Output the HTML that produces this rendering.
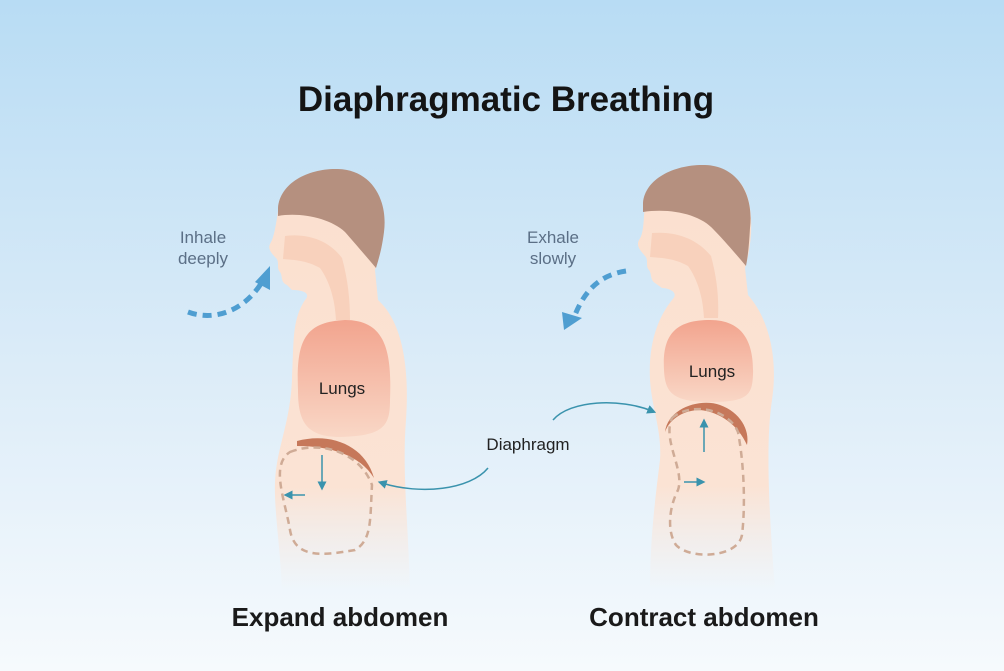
<!DOCTYPE html>
<html><head><meta charset="utf-8"><style>
html,body{margin:0;padding:0;width:1004px;height:671px;overflow:hidden;}
svg{display:block}
text{font-family:"Liberation Sans",sans-serif}
</style></head><body>
<svg width="1004" height="671" viewBox="0 0 1004 671" xmlns="http://www.w3.org/2000/svg">
<defs>
<linearGradient id="bg" x1="0" y1="0" x2="0" y2="1">
<stop offset="0" stop-color="#b8dcf4"/><stop offset="0.55" stop-color="#dcecf8"/><stop offset="1" stop-color="#f6fafd"/>
</linearGradient>
<linearGradient id="body" x1="0" y1="0" x2="0" y2="1">
<stop offset="0" stop-color="#fbe0cf"/><stop offset="0.75" stop-color="#fbe3d4"/><stop offset="1" stop-color="#fbe9df" stop-opacity="0"/>
</linearGradient>
<linearGradient id="lung" x1="0" y1="0" x2="0" y2="1">
<stop offset="0" stop-color="#f2a48e"/><stop offset="1" stop-color="#f9d7c6"/>
</linearGradient>
<marker id="ah" viewBox="0 0 10 10" refX="5" refY="5" markerWidth="6" markerHeight="6" orient="auto-start-reverse"><path d="M0,0 L10,5 L0,10 z" fill="#3a93ad"/></marker>
</defs>
<rect width="1004" height="671" fill="url(#bg)"/>
<text x="506" y="111" font-size="35" font-weight="bold" text-anchor="middle" fill="#141414">Diaphragmatic Breathing</text>

<!-- LEFT FIGURE -->
<g>
<path d="M280,200 C285,185 330,172 360,180 C385,190 385,240 375,270 L378,300 C400,320 410,360 406,420 C402,470 408,520 410,590 L282,590 C280,540 272,500 276,470 C280,440 290,420 292,380 C294,340 292,320 305,300 C312,292 300,290 292,290 L287,285 C280,282 283,276 280,272 C276,268 280,262 276,258 C270,252 268,248 270,244 C275,236 276,222 280,200 Z" fill="url(#body)"/>
<path d="M278,208 C280,182 310,168 338,169 C372,170 388,200 384,232 C382,248 379,258 376,268 C365,255 352,240 345,232 C330,218 300,212 278,216 Z" fill="#b5907f"/>
<path d="M285,236 C310,233 330,242 342,258 C348,280 350,300 350,320 L336,320 C335,300 330,282 320,268 C306,260 293,260 283,259 Z" fill="#f8cdb7" opacity="0.8"/>
<path d="M298,390 C296,340 305,322 345,320 C385,320 392,350 390,400 C390,425 385,436 340,437 C305,437 298,420 298,390 Z" fill="url(#lung)"/>
<path d="M297,441 C330,432 365,445 374,478 C360,455 330,446 297,446 Z" fill="#c6785a"/>
<path d="M290,452 C320,440 360,452 372,485 C370,520 372,540 355,550 C325,555 295,560 290,530 C285,500 270,465 290,452 Z" fill="none" stroke="#cfab96" stroke-width="2.5" stroke-dasharray="7,5"/>
<line x1="322" y1="455" x2="322" y2="486" stroke="#3a93ad" stroke-width="1.5" marker-end="url(#ah)"/>
<line x1="305" y1="495" x2="288" y2="495" stroke="#3a93ad" stroke-width="1.5" marker-end="url(#ah)"/>
<text x="342" y="394" font-size="17" text-anchor="middle" fill="#222">Lungs</text>
<path d="M188,312 C215,322 245,310 262,282" fill="none" stroke="#4f9ed1" stroke-width="5" stroke-dasharray="9,6"/>
<path d="M255,282 L270,266 L270,290 Z" fill="#4f9ed1"/>
<text x="203" y="243" font-size="17" text-anchor="middle" fill="#5b6f86">Inhale</text>
<text x="203" y="264" font-size="17" text-anchor="middle" fill="#5b6f86">deeply</text>
</g>

<!-- RIGHT FIGURE -->
<g>
<path d="M646,195 C650,180 700,165 730,175 C755,185 755,235 745,268 L748,295 C770,320 778,360 772,400 C766,440 768,500 775,590 L650,590 C650,540 655,500 660,460 C662,430 652,410 650,380 C648,340 660,315 672,300 C680,292 668,288 662,288 L655,283 C650,280 652,274 649,270 C645,266 649,260 645,256 C640,250 636,246 639,240 C645,232 643,215 646,195 Z" fill="url(#body)"/>
<path d="M643,203 C645,178 676,164 705,165 C738,166 754,195 750,228 C749,245 748,256 746,266 C735,253 722,238 714,230 C700,214 670,208 643,212 Z" fill="#b5907f"/>
<path d="M652,233 C678,231 698,240 711,256 C717,278 719,298 718,318 L704,318 C703,298 698,280 688,266 C674,258 661,258 650,257 Z" fill="#f8cdb7" opacity="0.8"/>
<path d="M664,370 C662,335 675,320 710,320 C745,320 754,345 753,375 C752,395 748,402 710,402 C672,402 665,392 664,370 Z" fill="url(#lung)"/>
<path d="M665,432 C668,408 700,398 720,405 C740,412 750,430 747,445 C738,425 720,412 700,410 C685,410 670,418 665,432 Z" fill="#c6785a"/>
<path d="M672,418 C690,402 728,408 738,432 C745,470 745,510 742,535 C738,558 690,560 676,545 C666,530 670,505 678,490 C685,470 662,440 672,418 Z" fill="none" stroke="#cfab96" stroke-width="2.5" stroke-dasharray="7,5"/>
<line x1="704" y1="452" x2="704" y2="423" stroke="#3a93ad" stroke-width="1.5" marker-end="url(#ah)"/>
<line x1="684" y1="482" x2="701" y2="482" stroke="#3a93ad" stroke-width="1.5" marker-end="url(#ah)"/>
<text x="712" y="377" font-size="17" text-anchor="middle" fill="#222">Lungs</text>
<path d="M626,271 C600,275 585,290 575,315" fill="none" stroke="#4f9ed1" stroke-width="5" stroke-dasharray="9,6"/>
<path d="M562,312 L582,318 L564,330 Z" fill="#4f9ed1"/>
<text x="553" y="243" font-size="17" text-anchor="middle" fill="#5b6f86">Exhale</text>
<text x="553" y="264" font-size="17" text-anchor="middle" fill="#5b6f86">slowly</text>
</g>

<!-- Diaphragm connectors -->
<path d="M488,468 C470,490 420,495 382,483" fill="none" stroke="#3a93ad" stroke-width="1.5" marker-end="url(#ah)"/>
<path d="M553,420 C570,400 620,398 652,411" fill="none" stroke="#3a93ad" stroke-width="1.5" marker-end="url(#ah)"/>
<text x="528" y="450" font-size="17" text-anchor="middle" fill="#222">Diaphragm</text>

<text x="340" y="626" font-size="26" font-weight="bold" text-anchor="middle" fill="#1a1a1a">Expand abdomen</text>
<text x="704" y="626" font-size="26" font-weight="bold" text-anchor="middle" fill="#1a1a1a">Contract abdomen</text>
</svg>
</body></html>
